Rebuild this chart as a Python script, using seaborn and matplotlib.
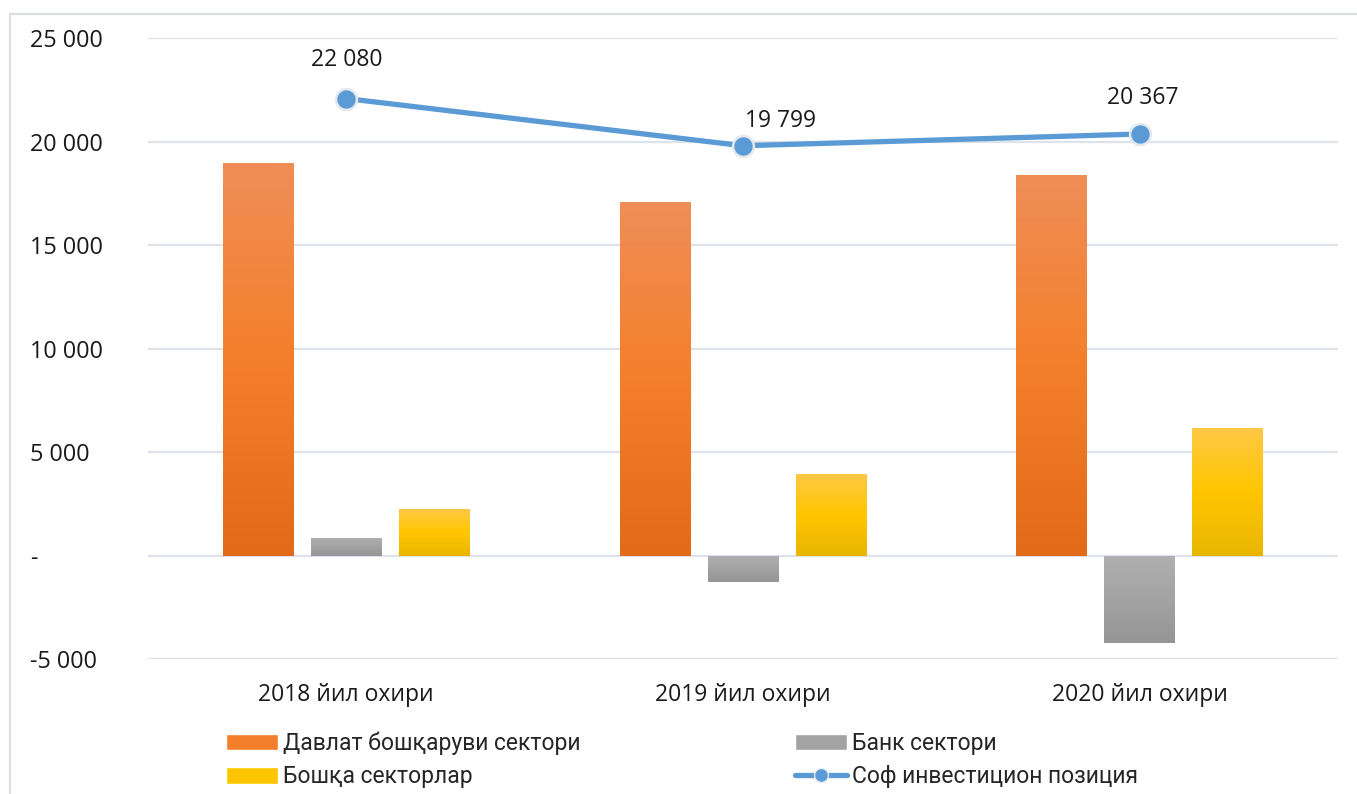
import numpy as np
import pandas as pd
import matplotlib

matplotlib.use("Agg")
import matplotlib.pyplot as plt
import seaborn as sns
from matplotlib.colors import LinearSegmentedColormap
from matplotlib.patches import Patch, Rectangle
from matplotlib.lines import Line2D
from matplotlib.ticker import FuncFormatter

years = ["2018 йил охири", "2019 йил охири", "2020 йил охири"]
sectors = ["Давлат бошқаруви сектори", "Банк сектори", "Бошқа секторлар"]
gov = [18950, 17070, 18400]
bank = [870, -1260, -4240]
other = [2270, 3960, 6170]
net = [22080, 19799, 20367]
net_label = "Соф инвестицион позиция"

# gradient stops (top, middle, bottom) per sector
grad = {
    sectors[0]: ["#F08E57", "#F47F2A", "#E36A18"],
    sectors[1]: ["#B0B0B0", "#A3A3A3", "#959595"],
    sectors[2]: ["#FFC845", "#FFC600", "#E8B500"],
}
label_offsets = [(0, 28), (27, 18), (2, 26)]

df = pd.DataFrame({
    "year": np.repeat(years, 3),
    "sector": sectors * 3,
    "value": [v for trio in zip(gov, bank, other) for v in trio],
})

sns.set_style("white")
plt.rcParams["font.family"] = ["Open Sans", "DejaVu Sans"]

fig = plt.figure(figsize=(13.57, 7.94), dpi=100)
ax = fig.add_axes([0.109, 0.170, 0.877, 0.782])

sns.barplot(data=df, x="year", y="value", hue="sector", hue_order=sectors,
            palette=[grad[s][1] for s in sectors], width=0.666, gap=0.2,
            errorbar=None, legend=False, ax=ax, zorder=3)

# replace flat fills with vertical gradients
for cont, s in zip(ax.containers, sectors):
    cmap = LinearSegmentedColormap.from_list(s, grad[s][::-1])
    for bar in cont:
        x0, y0 = bar.get_x(), bar.get_y()
        w, h = bar.get_width(), bar.get_height()
        ylo, yhi = min(y0, y0 + h), max(y0, y0 + h)
        img = ax.imshow(np.linspace(0, 1, 256).reshape(-1, 1), cmap=cmap,
                        extent=[x0, x0 + w, ylo, yhi], origin="lower",
                        aspect="auto", zorder=3)
        img.set_clip_path(bar)
        bar.set_facecolor("none")
        bar.set_edgecolor("none")

xs = np.arange(len(years))
sns.lineplot(x=xs, y=net, ax=ax, color="#5B9BD5", linewidth=3.8, marker="o",
             markersize=15, markerfacecolor="#5B9BD5", markeredgecolor="#E4E8EE",
             markeredgewidth=1.8, zorder=5)
for x, v, off in zip(xs, net, label_offsets):
    ax.annotate(f"{v:,}".replace(",", " "), (x, v), xytext=off,
                textcoords="offset points", ha="center", va="center",
                fontsize=16.5, color="#1A1A1A")

ax.set_xlim(-0.5, 2.5)
ax.set_ylim(-5000, 25000)
ax.set_yticks(np.arange(-5000, 25001, 5000))
ax.yaxis.set_major_formatter(FuncFormatter(
    lambda v, p: "-" if v == 0 else f"{int(v):,}".replace(",", " ")))
ax.grid(axis="y", color="#DEE3EA", linewidth=1.6, zorder=0)
ax.set_axisbelow(True)
for sp in ax.spines.values():
    sp.set_visible(False)
ax.tick_params(axis="y", length=0, pad=85, labelsize=16.8, labelcolor="#1A1A1A")
ax.tick_params(axis="x", length=0, pad=17, labelsize=16.5, labelcolor="#1A1A1A")
for t in ax.get_yticklabels():
    t.set_horizontalalignment("left")
ax.set_xlabel("")
ax.set_ylabel("")

handles = [
    Patch(facecolor=grad[sectors[0]][1]),
    Patch(facecolor=grad[sectors[2]][1]),
    Patch(facecolor=grad[sectors[1]][1]),
    Line2D([0], [0], color="#5B9BD5", linewidth=3.8, marker="o", markersize=10,
           markerfacecolor="#5B9BD5", markeredgecolor="#E4E8EE"),
]
labels = [sectors[0], sectors[2], sectors[1], net_label]
fig.legend(handles, labels, ncol=2, loc="center left",
           bbox_to_anchor=(0.151, 0.043), frameon=False,
           prop={"family": ["Roboto", "DejaVu Sans"], "size": 16.5},
           handlelength=2.3, handleheight=0.75, handletextpad=0.2,
           columnspacing=9.35, labelspacing=0.45)

fig.patches.append(Rectangle((10 / 1357, -0.1), 1.2, 1.1 - 14 / 794,
                             transform=fig.transFigure, fill=False,
                             edgecolor="#D9DEE5", linewidth=1.5))

fig.savefig("out.png", dpi=100)
